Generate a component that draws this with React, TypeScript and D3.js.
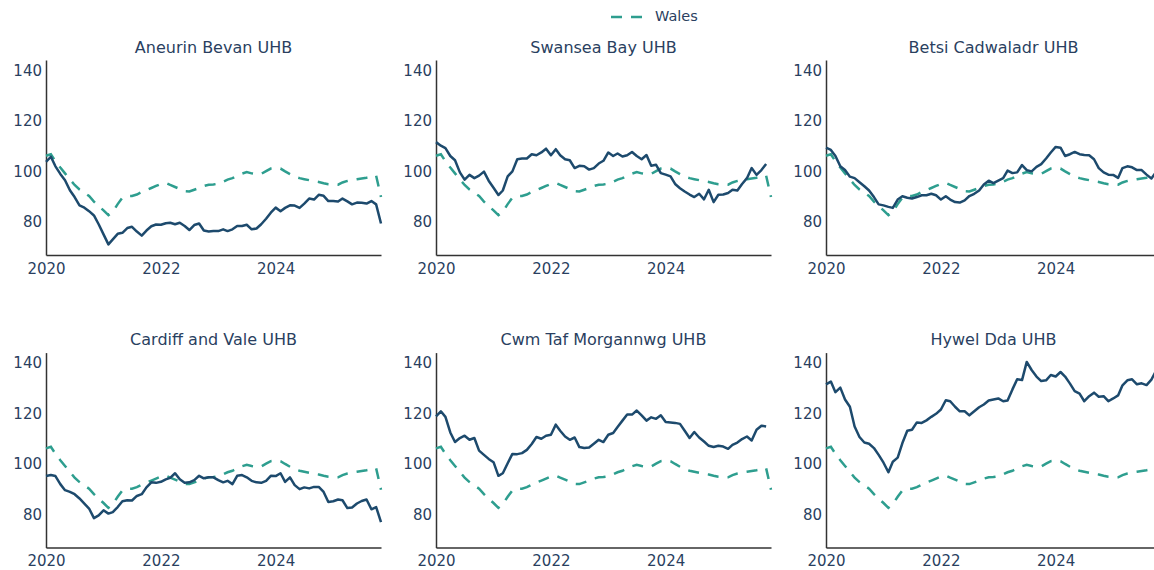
import React, { useEffect, useRef } from "react";
import * as d3 from "d3";

// monthly index values, Jan 2020 onwards
const startYear = 2020;
const panelTitles = [
    "Aneurin Bevan UHB",
    "Swansea Bay UHB",
    "Betsi Cadwaladr UHB",
    "Cardiff and Vale UHB",
    "Cwm Taf Morgannwg UHB",
    "Hywel Dda UHB",
];

const walesValues = [
    106.2, 106.8, 104.0, 101.5, 99.2, 96.8, 94.6, 92.8, 91.5, 90.2,
    88.0, 86.2, 84.5, 82.6, 84.0, 87.0, 89.5, 90.2, 90.2, 90.8,
    91.8, 92.6, 93.4, 94.2, 95.0, 95.4, 94.6, 93.8, 93.0, 92.1,
    92.0, 92.7, 93.4, 94.2, 94.7, 94.8, 95.1, 95.9, 96.7, 97.3,
    98.2, 99.1, 99.7, 99.2, 98.9, 99.0, 100.1, 101.1, 101.3, 101.1,
    100.0, 98.9, 97.9, 97.3, 96.9, 96.5, 96.1, 95.8, 95.3, 94.9,
    94.7, 94.7, 95.6, 96.2, 96.6, 96.9, 97.2, 97.5, 97.9, 98.3, 89.8,
];

const aneurinBevan = [
    103.8, 105.8, 102.0, 99.0, 96.5, 92.5, 89.8, 86.5, 85.6, 84.2,
    82.5, 79.0, 75.0, 71.0, 73.0, 75.2, 75.6, 77.5, 78.0, 76.1,
    74.5, 76.5, 78.2, 78.9, 78.8, 79.4, 79.6, 79.0, 79.6, 78.3,
    76.7, 78.7, 79.3, 76.5, 76.1, 76.3, 76.3, 77.0, 76.3, 77.0,
    78.3, 78.3, 78.8, 77.0, 77.3, 79.0, 81.2, 83.6, 85.6, 84.2,
    85.5, 86.5, 86.4, 85.5, 87.2, 89.2, 88.8, 90.7, 90.3, 88.2,
    88.2, 88.0, 89.2, 88.1, 86.9, 87.6, 87.5, 87.2, 88.2, 86.9, 79.3,
];

const swanseaBay = [
    111.6, 110.2, 109.2, 106.1, 104.4, 99.6, 96.7, 98.6, 97.3, 98.3,
    99.9, 96.3, 93.5, 90.6, 92.4, 98.0, 100.0, 104.8, 105.1, 105.1,
    106.8, 106.4, 107.5, 109.0, 106.4, 108.8, 106.4, 104.8, 104.4, 101.3,
    102.2, 102.0, 100.7, 101.3, 103.1, 104.2, 107.5, 106.1, 107.1, 105.9,
    106.4, 107.7, 106.1, 104.8, 106.5, 102.2, 102.6, 99.3, 98.7, 98.0,
    95.0, 93.3, 92.0, 90.8, 89.8, 91.1, 88.9, 92.7, 87.8, 90.7,
    90.8, 91.4, 92.7, 92.4, 95.0, 97.3, 101.3, 98.6, 100.5, 102.9,
];

const betsiCadwaladr = [
    109.4, 108.5, 106.1, 102.0, 100.5, 97.9, 97.3, 95.7, 94.1, 92.4,
    89.8, 86.9, 86.5, 85.9, 85.5, 88.8, 90.1, 89.5, 89.2, 89.8,
    90.5, 90.5, 91.1, 90.5, 88.8, 90.1, 88.8, 87.8, 87.6, 88.5,
    90.2, 91.1, 92.4, 94.8, 96.3, 95.3, 96.3, 97.3, 100.3, 99.3,
    99.6, 102.5, 100.5, 100.0, 101.8, 102.9, 105.1, 107.5, 109.7, 109.4,
    106.1, 106.8, 107.7, 106.8, 106.5, 106.4, 104.8, 101.3, 99.6, 98.7,
    98.6, 97.4, 101.3, 102.0, 101.6, 100.5, 100.5, 98.7, 97.2, 99.8, 100.5,
];

const cardiffVale = [
    95.2, 95.6, 95.2, 92.0, 89.6, 88.9, 88.0, 86.3, 84.3, 82.3,
    78.5, 79.6, 81.6, 80.3, 80.9, 82.9, 85.2, 85.6, 85.5, 87.3,
    88.0, 90.7, 92.7, 92.5, 92.9, 93.9, 94.5, 96.3, 93.9, 92.5,
    92.7, 93.6, 95.3, 94.3, 94.7, 94.7, 93.6, 92.7, 93.3, 92.0,
    95.3, 95.6, 94.7, 93.3, 92.7, 92.5, 93.3, 95.3, 95.2, 96.3,
    92.9, 94.7, 91.6, 90.0, 90.7, 90.3, 90.9, 90.9, 88.9, 84.9,
    85.2, 85.9, 85.6, 82.5, 82.7, 84.3, 85.3, 85.9, 82.0, 82.9, 76.9,
];

const cwmTaf = [
    118.9, 120.9, 118.7, 112.5, 108.7, 110.3, 111.2, 109.6, 110.3, 105.3,
    103.6, 102.0, 100.7, 95.3, 96.3, 100.3, 104.0, 103.9, 104.3, 105.6,
    107.9, 110.7, 110.0, 111.2, 111.6, 115.6, 113.2, 110.9, 109.6, 110.5,
    106.7, 106.3, 106.5, 108.0, 109.6, 108.7, 111.6, 112.3, 114.7, 117.2,
    119.6, 119.6, 121.2, 119.3, 117.2, 118.5, 117.9, 119.3, 116.7, 116.5,
    116.3, 115.9, 113.2, 110.3, 112.7, 110.5, 108.9, 107.2, 106.7, 107.2,
    106.9, 106.0, 107.6, 108.5, 109.9, 110.9, 109.3, 113.6, 115.2, 114.9,
];

const hywelDda = [
    131.6, 132.7, 128.5, 130.3, 125.6, 122.7, 114.9, 110.7, 108.5, 108.0,
    106.3, 103.6, 100.5, 96.7, 100.9, 102.5, 108.3, 113.2, 113.6, 116.5,
    116.3, 117.3, 118.7, 119.9, 121.6, 125.3, 124.9, 122.7, 120.9, 120.9,
    119.3, 120.9, 122.5, 123.6, 125.2, 125.6, 126.0, 124.9, 125.2, 129.6,
    133.6, 133.3, 140.5, 137.3, 134.7, 132.9, 133.2, 135.3, 134.7, 136.5,
    134.7, 131.9, 128.9, 127.9, 124.9, 126.9, 128.3, 126.7, 126.9, 124.9,
    126.0, 127.2, 131.2, 133.2, 133.6, 131.6, 132.0, 131.3, 133.5, 137.0, 138.0,
];

const boardSeries = [aneurinBevan, swanseaBay, betsiCadwaladr, cardiffVale, cwmTaf, hywelDda];
const yTicks = [80, 100, 120, 140];
const xTickLabels = ["2020", "2022", "2024"];
const legendLabel = "Wales";

const monthDate = (i) => new Date(startYear, i, 1);

const App = () => {
    const svgRef = useRef(null);

    useEffect(() => {
        const svg = d3.select(svgRef.current);
        svg.selectAll("*").remove();

        const fontFamily = 'Verdana, "DejaVu Sans", sans-serif';
        const textColor = "#2a3f5f";
        const boardColor = "#1d4a6d";
        const walesColor = "#2e9e8f";
        const axisColor = "#333";

        const plotW = 335;
        const plotH = 195;
        const left = 46;
        const top = 60;
        const colStep = 390;
        const rowStep = 292.6;

        const xScale = d3.scaleTime()
            .domain([monthDate(0), monthDate(walesValues.length - 1)])
            .range([0, plotW]);
        const yScale = d3.scaleLinear().domain([66.8, 144.2]).range([plotH, 0]);

        const line = d3.line()
            .defined((d) => d != null)
            .x((d, i) => xScale(monthDate(i)))
            .y((d) => yScale(d));

        boardSeries.forEach((values, k) => {
            const col = k % 3;
            const row = Math.floor(k / 3);
            const g = svg.append("g")
                .attr("transform", `translate(${left + col * colStep}, ${top + row * rowStep})`);

            // title
            g.append("text")
                .attr("x", plotW / 2)
                .attr("y", -12)
                .attr("text-anchor", "middle")
                .attr("dominant-baseline", "middle")
                .style("font-family", fontFamily)
                .style("font-size", "16px")
                .style("fill", textColor)
                .text(panelTitles[k]);

            // axes
            const xAxis = g.append("g")
                .attr("transform", `translate(0, ${plotH})`)
                .call(d3.axisBottom(xScale)
                    .tickValues(xTickLabels.map((y) => new Date(+y, 0, 1)))
                    .tickFormat(d3.timeFormat("%Y"))
                    .tickSize(0)
                    .tickPadding(8));
            const yAxis = g.append("g")
                .call(d3.axisLeft(yScale).tickValues(yTicks).tickSize(0).tickPadding(4));

            [xAxis, yAxis].forEach((ax) => {
                ax.select(".domain").attr("stroke", axisColor).attr("stroke-width", 1.5);
                ax.selectAll("text")
                    .style("font-family", fontFamily)
                    .style("font-size", "15px")
                    .style("fill", textColor);
            });

            // lines
            g.append("path")
                .datum(walesValues)
                .attr("d", line)
                .attr("fill", "none")
                .attr("stroke", walesColor)
                .attr("stroke-width", 2.5)
                .attr("stroke-dasharray", "11,9");

            g.append("path")
                .datum(values)
                .attr("d", line)
                .attr("fill", "none")
                .attr("stroke", boardColor)
                .attr("stroke-width", 2.5)
                .attr("stroke-linejoin", "round");
        });

        // legend
        const legend = svg.append("g").attr("transform", "translate(611, 17)");
        legend.append("line")
            .attr("x1", 0)
            .attr("x2", 31)
            .attr("stroke", walesColor)
            .attr("stroke-width", 2.5)
            .attr("stroke-dasharray", "11,9");
        legend.append("text")
            .attr("x", 44)
            .attr("dominant-baseline", "middle")
            .style("font-family", fontFamily)
            .style("font-size", "14.5px")
            .style("fill", textColor)
            .text(legendLabel);
    }, []);

    return (
        <div style={{ position: "absolute", left: 0, top: 0 }}>
            <svg ref={svgRef} width={1154} height={570}></svg>
        </div>
    );
};

export default App;
